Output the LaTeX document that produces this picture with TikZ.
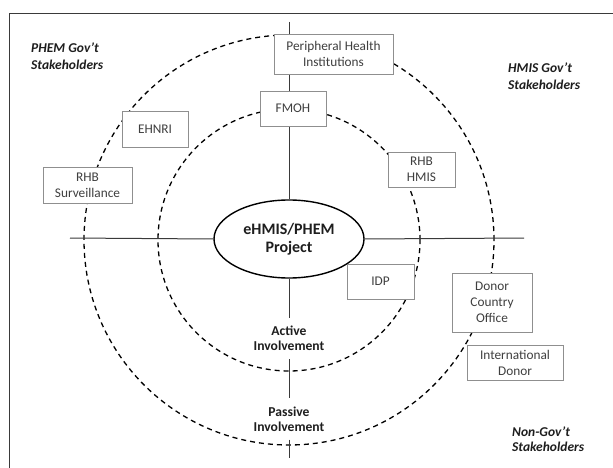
\documentclass[tikz,border=0pt]{standalone}
\usepackage{fontspec}
\setmainfont{Carlito}
\usetikzlibrary{shapes.geometric}

\definecolor{linegray}{HTML}{3A3A3A}
\definecolor{boxgray}{HTML}{8F8F8F}
\definecolor{txtgray}{HTML}{3F3F3F}
\definecolor{lblblack}{HTML}{1E1E1E}

\tikzset{
  axis/.style={draw=linegray, line width=1pt},
  ring/.style={draw=black, line width=1.3pt, dash pattern=on 5pt off 4pt},
  stakebox/.style={draw=boxgray, fill=white, line width=0.9pt, text=txtgray,
    align=center, inner sep=0pt, font=\fontsize{13.3}{16}\selectfont},
  grouplabel/.style={align=left, anchor=west, text=lblblack, inner sep=0pt,
    font=\fontsize{13.5}{17}\selectfont\bfseries\itshape},
  levellabel/.style={align=center, text=lblblack, inner sep=0pt, minimum height=41pt,
    font=\fontsize{13.6}{15}\selectfont\bfseries},
}

\begin{document}
\begin{tikzpicture}[x=1pt, y=-1pt]
  % canvas and frame
  \fill[white] (0,0) rectangle (613,468);
  \useasboundingbox (0,0) rectangle (613,468);
  \coordinate (frTR) at (613,13.3);
  \coordinate (frTL) at (9.4,13.3);
  \coordinate (frBL) at (9.4,468);
  \draw[draw=linegray, line width=1.2pt] (frTR) -- (frTL) -- (frBL);

  % involvement rings
  \draw[ring] (289,240) circle[radius=205pt];
  \draw[ring] (289,240) circle[radius=131pt];

  % central project
  \node[ellipse, draw=black, line width=1.4pt, fill=white, minimum width=150pt,
        minimum height=78pt, inner sep=0pt, align=center, text=lblblack,
        font=\fontsize{16}{17.5}\selectfont\bfseries]
        (proj) at (289,239) {eHMIS/PHEM\\Project};

  % involvement labels on the vertical axis
  \node[levellabel] (active) at (289,338.5) {Active\\Involvement};
  \node[levellabel] (passive) at (289,419) {Passive\\Involvement};

  % axes
  \coordinate (axTop) at (289,22);
  \coordinate (axBot) at (289,458);
  \coordinate (axLeft) at (70,238);
  \coordinate (axRight) at (524,238);
  \draw[axis] (axTop) -- (proj.north);
  \draw[axis] (proj.south) -- (active.north);
  \draw[axis] (active.south) -- (passive.north);
  \draw[axis] (passive.south) -- (axBot);
  \draw[axis] (axLeft) -- (proj.west);
  \draw[axis] (proj.east) -- (axRight);

  % stakeholders
  \node[stakebox, minimum width=119pt, minimum height=40pt] (phi) at (333.5,54)
        {Peripheral Health\\Institutions};
  \node[stakebox, minimum width=66pt, minimum height=35pt] (fmoh) at (293,108.5) {FMOH};
  \node[stakebox, minimum width=66pt, minimum height=36pt] (ehnri) at (155,129) {EHNRI};
  \node[stakebox, minimum width=67pt, minimum height=35pt] (rhbhmis) at (421.5,169.5)
        {RHB\\HMIS};
  \node[stakebox, minimum width=89pt, minimum height=36pt] (rhbsurv) at (87.5,185)
        {RHB\\Surveillance};
  \node[stakebox, minimum width=67pt, minimum height=35pt] (idp) at (380.5,281.5) {IDP};
  \node[stakebox, minimum width=80pt, minimum height=59pt] (dco) at (492,302.5)
        {Donor\\Country\\Office};
  \node[stakebox, minimum width=96pt, minimum height=35pt] (intdonor) at (515,362.5)
        {International\\Donor};

  % stakeholder groups
  \node[grouplabel] (phemgov) at (31,56.5) {PHEM Gov’t\\Stakeholders};
  \node[grouplabel] (hmisgov) at (508,76.5) {HMIS Gov’t\\Stakeholders};
  \node[grouplabel, font=\fontsize{13.5}{15}\selectfont\bfseries\itshape]
        (nongov) at (512,439.5) {Non-Gov’t\\Stakeholders};
\end{tikzpicture}
\end{document}
